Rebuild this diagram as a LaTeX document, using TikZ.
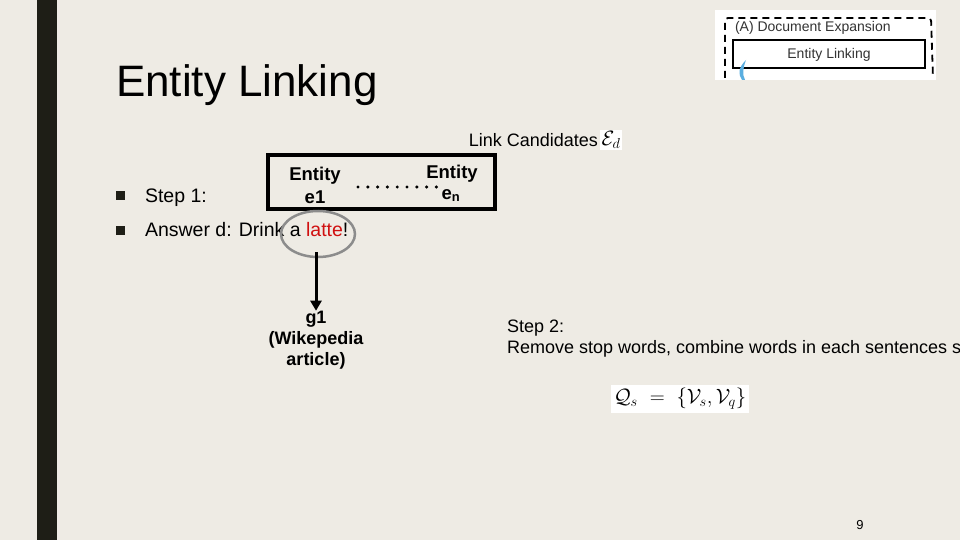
\documentclass[tikz,border=0pt]{standalone}
\usepackage{fontspec}
\setmainfont{Liberation Sans}
\usepackage{amsmath}
\usetikzlibrary{arrows.meta}
\definecolor{bg}{HTML}{EEEBE4}
\definecolor{barc}{HTML}{1E1E16}
\definecolor{lattered}{HTML}{D01010}
\definecolor{ellg}{HTML}{8C8C8C}
\definecolor{swoosh}{HTML}{5AAEE0}
\begin{document}
\begin{tikzpicture}[x=1pt,y=-1pt,
  txt/.style={inner sep=0pt,outer sep=0pt},
  btxt/.style={inner sep=0pt,font=\fontsize{18.5}{21}\selectfont\bfseries,align=center},
  bul/.style={fill=barc,minimum size=9pt,inner sep=0pt}]
\useasboundingbox (0,0) rectangle (960,540);
\fill[bg] (0,0) rectangle (960,540);
\fill[barc] (37,0) rectangle (57,540);
% title
\node[txt,anchor=base west,font=\fontsize{44}{50}\selectfont] (title) at (116,97) {Entity Linking};
% top right inset
\fill[white] (715,10) rectangle (936,80);
\draw[line width=1.8pt,dash pattern=on 7pt off 5pt,rounded corners=3pt] (725,78) -- (725,18) -- (931,18) -- (933,78);
\draw[line width=2pt] (733,40) rectangle (925,68);
\node[txt,anchor=base west,font=\fontsize{14}{16}\selectfont,text=black!80] (docexp) at (735,32) {(A) Document Expansion};
\node[txt,anchor=base,font=\fontsize{14}{16}\selectfont,text=black!80] (elink) at (829,59) {Entity Linking};
\fill[swoosh] (746,60) .. controls (738,68) and (738,74) .. (742,80) -- (745,80) .. controls (742,74) and (743,68) .. (746,60);
% link candidates
\node[txt,anchor=base east,font=\fontsize{18}{20}\selectfont] (lc) at (598,147) {Link Candidates};
\node[fill=white,inner sep=1.5pt,anchor=west,font=\fontsize{20}{22}\selectfont] (ed) at (600,140) {$\mathcal{E}_{d}$};
% box
\draw[line width=3.5pt] (268,155) rectangle (495,209);
\node[btxt] (ent1) at (315,176) {Entity};
\node[btxt] (e1) at (315,197) {e1};
\node[btxt] (entn) at (452,174) {Entity};
\node[btxt,anchor=base] (en) at (451,199) {e\textsubscript{\normalfont\bfseries n}};
\draw[line width=3.4pt,dash pattern=on 0pt off 9.8pt,line cap=round] (358,187) -- (440,187);
% bullets
\node[bul] (b1) at (120,195) {};
\node[bul] (b2) at (120,230) {};
\node[txt,anchor=base west,font=\fontsize{19.5}{22}\selectfont] (s1) at (145,202) {Step 1:};
\node[txt,anchor=base west,font=\fontsize{19.5}{22}\selectfont] (ans) at (145,236) {Answer d: Drink a \textcolor{lattered}{latte}!};
% ellipse
\draw[ellg,line width=2.5pt] (318,234) ellipse [x radius=37,y radius=23];
\coordinate (arrs) at (316,252);
\node[btxt,font=\fontsize{18}{21}\selectfont\bfseries] (g1) at (316,340) {g1\\(Wikepedia\\article)};
\draw[line width=3pt,-{Triangle[length=10pt,width=11pt]}] (arrs) -- (arrs |- g1.north);
% step 2
\node[txt,anchor=base west,font=\fontsize{18}{21}\selectfont,align=left] (s2) at (507,353) {Step 2:\\Remove stop words, combine words in each sentences s};
\node[fill=white,inner sep=3pt,anchor=center,font=\fontsize{22}{24}\selectfont] (qs) at (680,399) {$\mathcal{Q}_s\ =\ \{\mathcal{V}_s,\mathcal{V}_q\}$};
% page number
\node[txt,font=\fontsize{13}{15}\selectfont] (pg) at (860,525) {9};
\end{tikzpicture}
\end{document}
